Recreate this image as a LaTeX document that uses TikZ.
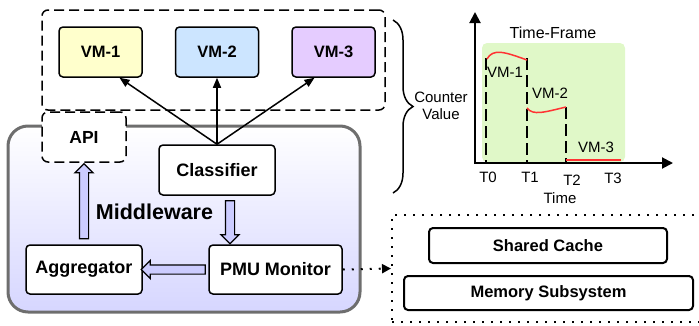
\documentclass[tikz,border=0pt]{standalone}
\usepackage{fontspec}
\setmainfont{Liberation Sans}
\usepackage{tikz}
\usepackage{xcolor}
\usetikzlibrary{arrows.meta,shapes.arrows,decorations.pathreplacing}
\definecolor{vmyellow}{RGB}{255,255,204}
\definecolor{vmblue}{RGB}{204,229,255}
\definecolor{vmpurple}{RGB}{229,204,255}
\definecolor{mwgray}{RGB}{110,110,110}
\definecolor{mwlav}{RGB}{214,214,255}
\definecolor{arrowlav}{RGB}{204,204,255}
\definecolor{framegreen}{RGB}{224,248,200}
\definecolor{curvered}{RGB}{255,51,51}

\begin{document}
\begin{tikzpicture}[x=1pt, y=-1pt,
  box/.style={draw, line width=1.5pt, rounded corners=4pt, fill=white, inner sep=0pt, font=\fontsize{18}{20}\selectfont\bfseries},
  vmbox/.style={box, minimum width=83pt, minimum height=50pt, font=\fontsize{16.5}{18}\selectfont\bfseries},
  hwbox/.style={box, line width=2pt, font=\fontsize{16.5}{18}\selectfont\bfseries},
  dashbox/.style={draw, line width=1.5pt, dash pattern=on 10pt off 5pt, rounded corners=6pt, inner sep=0pt},
  dotbox/.style={draw, line width=2pt, dash pattern=on 2pt off 7pt, inner sep=0pt},
  fatarrow/.style={single arrow, draw, line width=1.2pt, fill=arrowlav, inner sep=4pt, single arrow head extend=4.5pt, minimum width=17pt},
  vmarrow/.style={line width=1.5pt, -{Triangle[length=10pt,width=8pt]}},
  lbl/.style={font=\fontsize{15}{17}\selectfont},
  tdash/.style={line width=1.5pt, dash pattern=on 12pt off 5pt},
  vmcurve/.style={curvered, line width=1.5pt}
]
\useasboundingbox (0,0) rectangle (699,325);

% Middleware
\node[draw=mwgray, line width=3pt, rounded corners=20pt, top color=white, bottom color=mwlav, minimum width=352pt, minimum height=186pt] (mw) at (184,219) {};
\node[font=\fontsize{21.5}{24}\selectfont\bfseries] (mwlabel) at (154.5,212) {Middleware};

% VMs
\node[dashbox, minimum width=343pt, minimum height=100pt] (vmgroup) at (213.5,60) {};
\node[vmbox, fill=vmyellow] (vm1) at (100.5,52) {VM-1};
\node[vmbox, fill=vmblue] (vm2) at (217,52) {VM-2};
\node[vmbox, fill=vmpurple] (vm3) at (333.5,52) {VM-3};

% Middleware parts
\node[dashbox, fill=white, minimum width=84pt, minimum height=50pt, font=\fontsize{17.5}{20}\selectfont\bfseries] (api) at (84,137) {API};
\node[box, minimum width=116pt, minimum height=50pt] (cls) at (217,170) {Classifier};
\node[box, minimum width=116pt, minimum height=49pt] (agg) at (84,269.5) {Aggregator};
\node[box, minimum width=133pt, minimum height=49pt] (pmu) at (275.5,269.5) {PMU Monitor};

% Arrows
\draw[vmarrow] (cls.north) -- ([xshift=19pt]vm1.south);
\draw[vmarrow] (cls.north) -- (vm2.south);
\draw[vmarrow] (cls.north) -- ([xshift=-19pt]vm3.south);
\path (agg.north) -- (api.south) node[fatarrow, midway, rotate=90, minimum height=75pt] (aggapi) {};
\path ([xshift=13pt]cls.south) -- ([xshift=-45.5pt]pmu.north) node[fatarrow, midway, rotate=-90, minimum height=43pt] (clspmu) {};
\path (pmu.west) -- (agg.east) node[fatarrow, midway, rotate=180, minimum height=64pt] (pmuagg) {};

% Hardware
\node[dotbox, minimum width=318pt, minimum height=107pt] (hw) at (551,268.5) {};
\node[hwbox, minimum width=238pt, minimum height=35pt] (cache) at (548,245.5) {Shared Cache};
\node[hwbox, minimum width=289pt, minimum height=34pt] (mem) at (548.5,293) {Memory Subsystem};
\draw[line width=2pt, dash pattern=on 2pt off 7pt, -{Triangle[length=9pt,width=9pt]}] (pmu.east) -- (hw.west);

% Counter values
\draw[decorate, decoration={brace, amplitude=20pt}, line width=1.5pt] (393,20) -- (393,193);
\node[lbl, align=center] (counter) at (441,106) {Counter\\Value};
\node[draw=none, fill=framegreen, rounded corners=5pt, minimum width=143pt, minimum height=119pt] (frame) at (553.5,102.5) {};
\node[lbl, font=\fontsize{16}{18}\selectfont] (framelabel) at (553,33) {Time-Frame};
\draw[line width=2pt, {Triangle[length=11pt,width=11pt]}-{Triangle[length=11pt,width=11pt]}] (475,12) -- (475,163) -- (673,163);
\draw[tdash] (486,58) -- (486,162);
\draw[tdash] (527,58) -- (527,162);
\draw[tdash] (566,107) -- (566,162);
\draw[vmcurve] (487,59) .. controls (493,48) and (505,52) .. (527,60);
\draw[vmcurve] (527,108) .. controls (533,116) and (545,112) .. (566,107);
\draw[vmcurve] (566,160) -- (621,160);
\node[lbl] (c1) at (505,72) {VM-1};
\node[lbl] (c2) at (550,93) {VM-2};
\node[lbl] (c3) at (596,147) {VM-3};
\node[lbl] (t0) at (488,177) {T0};
\node[lbl] (t1) at (530,177) {T1};
\node[lbl] (t2) at (572,180) {T2};
\node[lbl] (t3) at (613,178) {T3};
\node[lbl] (time) at (560,198) {Time};
\end{tikzpicture}
\end{document}
